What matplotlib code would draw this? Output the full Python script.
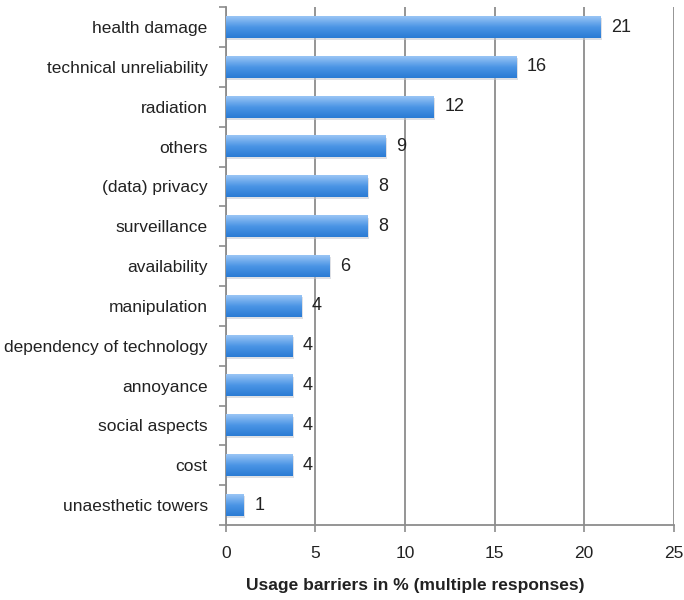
import numpy as np
import matplotlib.pyplot as plt
from matplotlib.colors import LinearSegmentedColormap

plt.rcParams['font.family'] = ['Liberation Sans', 'DejaVu Sans']

# Usage barriers, top to bottom
categories = ['health damage', 'technical unreliability', 'radiation', 'others',
              '(data) privacy', 'surveillance', 'availability', 'manipulation',
              'dependency of technology', 'annoyance', 'social aspects', 'cost',
              'unaesthetic towers']
values = [20.9, 16.2, 11.6, 8.9, 7.9, 7.9, 5.8, 4.2, 3.7, 3.7, 3.7, 3.7, 1.0]

fig = plt.figure(figsize=(6.84, 6.0), dpi=100)
ax = fig.add_axes([0.330, 0.125, 0.655, 0.863])

y = np.arange(len(categories))[::-1]
bars = ax.barh(y, values, height=0.54, color='none', edgecolor='none', zorder=3)

# vertical blue gradient inside each bar
cmap = LinearSegmentedColormap.from_list('bluebar', ['#2a7bd4', '#4b95e5', '#9ac5f5'])
grad = np.linspace(0, 1, 64).reshape(-1, 1)
for b, v in zip(bars, values):
    x0, y0 = b.get_x(), b.get_y()
    w, h = b.get_width(), b.get_height()
    # soft drop shadow
    ax.add_patch(plt.Rectangle((x0, y0 - 0.05), w + 0.1, h, color='#c4c8d0',
                               alpha=0.55, zorder=2, lw=0))
    ax.imshow(grad, cmap=cmap, aspect='auto', origin='lower',
              extent=(x0, x0 + w, y0, y0 + h), zorder=3, interpolation='bicubic')
    ax.text(x0 + w + 0.6, y0 + h / 2, f'{v:.0f}', va='center', ha='left',
            fontsize=13, color='#222222', zorder=4)

ax.set_xlim(0, 25)
ax.set_ylim(-0.5, len(categories) - 0.5)
ax.set_xticks(range(0, 26, 5))
ax.set_yticks(y)
ax.set_yticklabels(categories)
ax.set_yticks(np.arange(-0.5, len(categories), 1), minor=True)

ax.grid(axis='x', color='#8c8c8c', lw=1.3, zorder=1)
for s in ['top', 'right']:
    ax.spines[s].set_visible(False)
for s in ['left', 'bottom']:
    ax.spines[s].set_color('#8c8c8c')
    ax.spines[s].set_linewidth(1.3)

ax.tick_params(axis='y', which='major', length=0, pad=13, labelsize=12.5, labelcolor='#222222')
ax.tick_params(axis='y', which='minor', length=5, color='#8c8c8c', width=1.2)
ax.tick_params(axis='x', length=5, color='#8c8c8c', width=1.2, pad=10,
               labelsize=12.5, labelcolor='#222222')

ax.set_xlabel('Usage barriers in % (multiple responses)', fontsize=12.5,
              fontweight='bold', color='#222222', labelpad=12)
ax.xaxis.set_label_coords(0.422, -0.103)

fig.savefig('out.png', dpi=100)
